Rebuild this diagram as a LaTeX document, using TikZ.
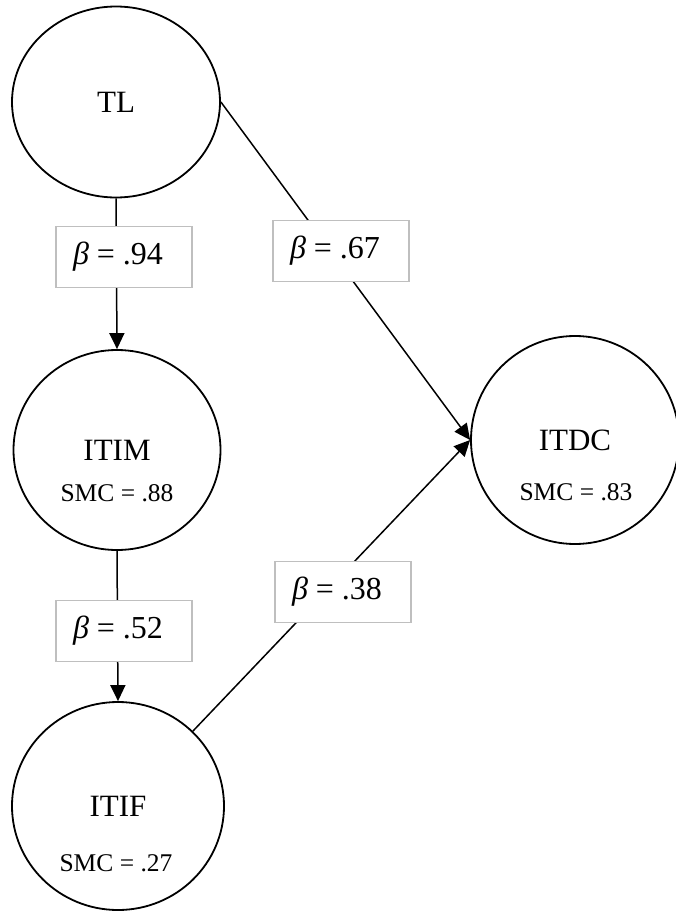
\documentclass[tikz,border=0pt]{standalone}
\usepackage{fontspec}
\setmainfont{Liberation Serif}
\usetikzlibrary{shapes.geometric,arrows.meta,backgrounds}

\begin{document}
\begin{tikzpicture}[x=1pt, y=-1pt,
    latent/.style={draw, ellipse, line width=1.8pt, inner sep=0pt, font=\fontsize{31}{36}\selectfont},
    smc/.style={inner sep=0pt, font=\fontsize{25.5}{30}\selectfont},
    coef/.style={draw=black!25, fill=white, line width=1.6pt, minimum width=136pt, minimum height=61pt,
                 inner sep=0pt, font=\fontsize{32}{38}\selectfont, execute at end node={\hspace{12pt}}},
    effect/.style={line width=1.5pt, -{Triangle[length=16pt,width=15pt]}}
]
    % Page size
    \useasboundingbox (0,0) rectangle (675,913);

    % Latent variables
    \node[latent, minimum width=208pt, minimum height=191pt] (TL) at (116,102) {TL};
    \node[latent, minimum width=207pt, minimum height=200pt] (ITIM) at (117,450) {ITIM};
    \node[latent, minimum width=212pt, minimum height=208pt] (ITIF) at (118,806) {ITIF};
    \node[latent, minimum width=208pt, minimum height=208pt] (ITDC) at (575,440) {ITDC};

    % Squared multiple correlations
    \node[smc] (ITIMsmc) at (117,493) {SMC = .88};
    \node[smc] (ITIFsmc) at (116,863) {SMC = .27};
    \node[smc] (ITDCsmc) at (576,492) {SMC = .83};

    % Path coefficients
    \node[coef] (b94) at (124,257) {\textit{β} = .94};
    \node[coef] (b67) at (341,251) {\textit{β} = .67};
    \node[coef] (b52) at (124,631) {\textit{β} = .52};
    \node[coef] (b38) at (343,592) {\textit{β} = .38};

    % Paths (behind the boxes)
    \begin{pgfonlayer}{background}
        \draw[effect] (TL.south) -- (ITIM.north);
        \draw[effect] (ITIM.south) -- (ITIF.north);
        \draw[effect] (TL.east) -- (ITDC.west);
        \draw[effect] (ITIF.45) -- (ITDC.west);
    \end{pgfonlayer}
\end{tikzpicture}
\end{document}
